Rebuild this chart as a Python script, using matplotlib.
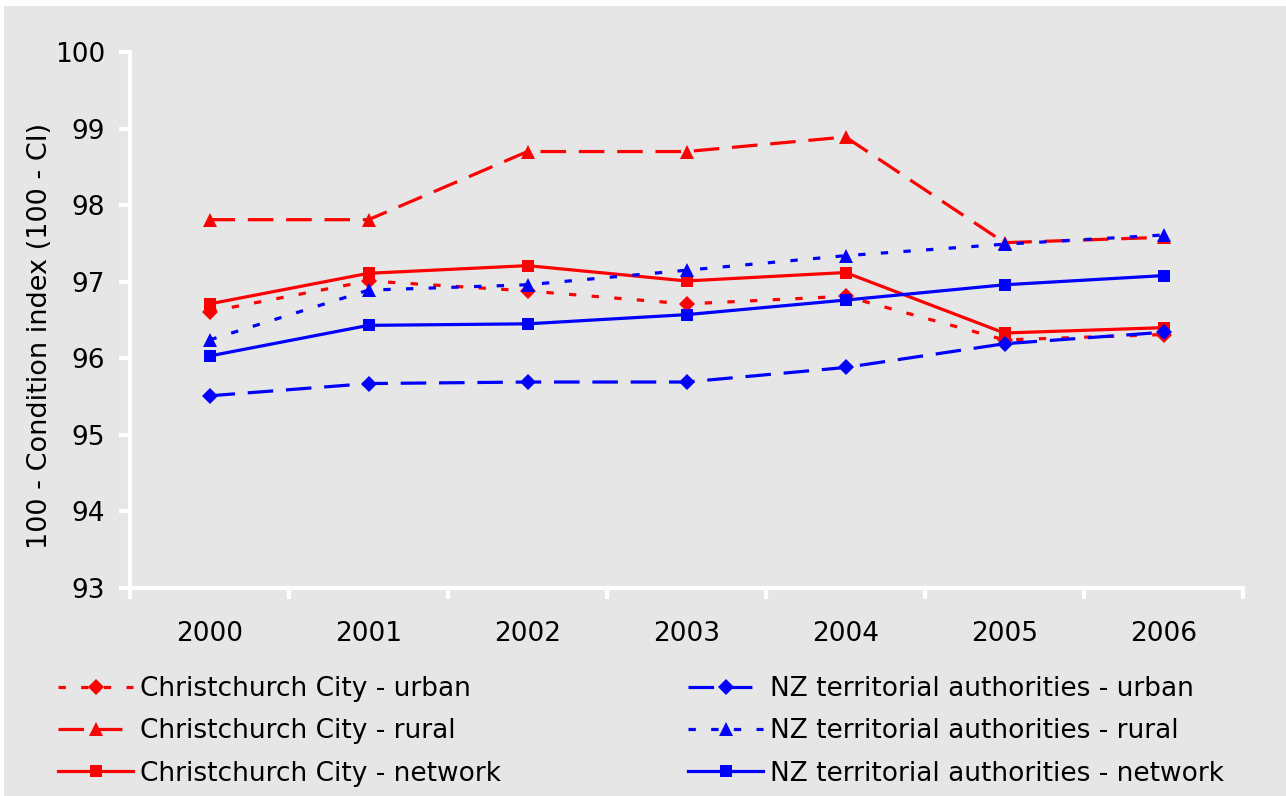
import matplotlib
matplotlib.use('Agg')
import matplotlib.pyplot as plt
from matplotlib.patches import Rectangle

years = ['2000', '2001', '2002', '2003', '2004', '2005', '2006']

# 100 - condition index
cc_urban = [96.61, 97.01, 96.88, 96.71, 96.81, 96.24, 96.31]
cc_rural = [97.81, 97.81, 98.70, 98.70, 98.89, 97.51, 97.58]
cc_network = [96.71, 97.11, 97.21, 97.01, 97.12, 96.33, 96.40]
nz_urban = [95.51, 95.67, 95.69, 95.69, 95.88, 96.19, 96.34]
nz_rural = [96.24, 96.89, 96.96, 97.15, 97.34, 97.49, 97.61]
nz_network = [96.03, 96.43, 96.45, 96.57, 96.76, 96.96, 97.08]

y_ticks = [93, 94, 95, 96, 97, 98, 99, 100]

bg = '#e6e6e6'
plt.rcParams['font.family'] = ['DejaVu Sans']

fig = plt.figure(figsize=(12.86, 7.96), dpi=100, facecolor='white')
# grey panel, leaving a thin white strip on top and left like the source
fig.patches.append(Rectangle((4 / 1286, 0), 1, 1 - 6 / 796, transform=fig.transFigure,
                             facecolor=bg, edgecolor='none', zorder=-10))

ax = fig.add_axes([130 / 1286, 1 - 588 / 796, 1113 / 1286, 536 / 796])
ax.set_facecolor(bg)

x = list(range(len(years)))
dotted = (0, (2.3, 4.8))
dashed = (0, (8, 4))

series = [
    (cc_urban, 'Christchurch City - urban', 'red', dotted, 'D', 8.5),
    (cc_rural, 'Christchurch City - rural', 'red', dashed, '^', 10),
    (cc_network, 'Christchurch City - network', 'red', '-', 's', 9),
    (nz_urban, 'NZ territorial authorities - urban', 'blue', dashed, 'D', 8.5),
    (nz_rural, 'NZ territorial authorities - rural', 'blue', dotted, '^', 10),
    (nz_network, 'NZ territorial authorities - network', 'blue', '-', 's', 9),
]

handles = []
for vals, label, col, ls, mk, ms in series:
    line, = ax.plot(x, vals, color=col, linestyle=ls, linewidth=2.3, marker=mk,
                    markersize=ms, markeredgewidth=0, label=label, clip_on=False)
    handles.append(line)

ax.set_xlim(-0.5, 6.5)
ax.set_ylim(93, 100)
ax.set_yticks(y_ticks)
ax.set_yticklabels([str(t) for t in y_ticks], fontsize=19)

# category boundaries get the tick marks, labels sit in the middle
ax.set_xticks([i - 0.5 for i in range(len(years) + 1)])
ax.set_xticklabels([])
ax.set_xticks(x, minor=True)
ax.set_xticklabels(years, minor=True, fontsize=19)
ax.tick_params(axis='x', which='major', direction='out', length=8, width=3, color='white')
ax.tick_params(axis='x', which='minor', length=0, pad=24)
ax.tick_params(axis='y', direction='out', length=8, width=3, color='white', pad=10)

for side in ['top', 'right']:
    ax.spines[side].set_visible(False)
for side in ['left', 'bottom']:
    ax.spines[side].set_color('white')
    ax.spines[side].set_linewidth(3)

ax.set_ylabel('100 - Condition index (100 - CI)', fontsize=19.5)
ax.yaxis.set_label_coords(-0.069, 0.47)

leg_kw = dict(loc='upper left', frameon=False, fontsize=19, borderpad=0, borderaxespad=0,
              handlelength=2.85, handletextpad=0.25, labelspacing=0.62)
fig.legend(handles=handles[:3], bbox_to_anchor=(58 / 1286, 1 - 676 / 796), **leg_kw)
fig.legend(handles=handles[3:], bbox_to_anchor=(688 / 1286, 1 - 676 / 796), **leg_kw)

fig.savefig('out.png', dpi=100, facecolor='white')
